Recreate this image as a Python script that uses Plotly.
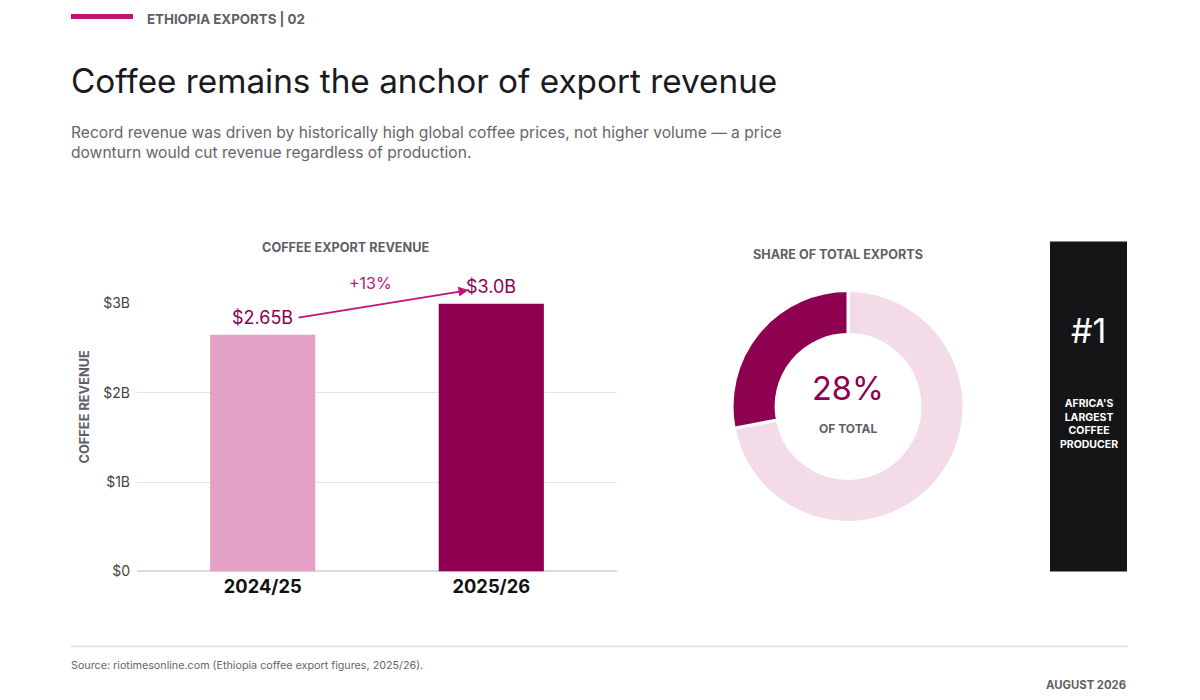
import plotly.graph_objects as go

# data
seasons = ["2024/25", "2025/26"]
revenue_bn = [2.65, 3.0]
share_labels = ["Coffee", "Other exports"]
share_pct = [28, 72]
y_ticks = [0, 1, 2, 3]
y_tick_text = ["$0", "$1B", "$2B", "$3B"]

W, H = 1200, 700
FONT = "Inter"
DARK = "#8E0050"
LIGHT_BAR = "#E4A1C5"
LIGHT_RING = "#F3DCE7"
ACCENT = "#C2127A"
GRAY = "#5F5F66"

# the page puts the plot a little off the window edge; these map the
# positions measured on the target picture to paper fractions
X_OFF, Y_OFF, Y_SCALE = 8, 16.4, 0.976


def px(x):
    return (x - X_OFF) / W


def py(y):
    return 1 - (y - Y_OFF) / (H * Y_SCALE)


fig = go.Figure()

fig.add_trace(go.Bar(
    x=seasons, y=revenue_bn, width=0.46,
    marker=dict(color=[LIGHT_BAR, DARK], line=dict(width=0)),
    hoverinfo="skip", showlegend=False, cliponaxis=False,
))

# reversed so the coffee slice runs left from 12 o'clock
fig.add_trace(go.Pie(
    labels=share_labels[::-1], values=share_pct[::-1], hole=0.62, sort=False,
    direction="counterclockwise", rotation=0,
    marker=dict(colors=[LIGHT_RING, DARK], line=dict(color="white", width=3)),
    textinfo="none", hoverinfo="skip", showlegend=False,
    domain=dict(x=[px(732), px(964)], y=[py(522), py(290)]),
))

growth = (revenue_bn[1] / revenue_bn[0] - 1) * 100

annotations = [
    # header
    dict(x=px(145), y=py(18), text="<b>ETHIOPIA EXPORTS | 02</b>", font=dict(size=13.3, color=GRAY)),
    dict(x=px(69), y=py(80), text="Coffee remains the anchor of export revenue",
         font=dict(size=33.3, color="#1B1B1F")),
    dict(x=px(69), y=py(142), align="left",
         text="Record revenue was driven by historically high global coffee prices, not higher volume — a price<br>"
              "downturn would cut revenue regardless of production.",
         font=dict(size=15.6, color="#66666C")),
    # panel titles
    dict(x=px(346), y=py(247), xanchor="center", text="<b>COFFEE EXPORT REVENUE</b>",
         font=dict(size=12.7, color=GRAY)),
    dict(x=px(838), y=py(254), xanchor="center", text="<b>SHARE OF TOTAL EXPORTS</b>",
         font=dict(size=12.6, color=GRAY)),
    dict(x=px(84), y=py(406), xanchor="center", textangle=-90, text="<b>COFFEE REVENUE</b>",
         font=dict(size=12.8, color=GRAY)),
    # donut center
    dict(x=px(848), y=py(388), xanchor="center", text=f"{share_pct[0]}%",
         font=dict(size=32.5, color=DARK)),
    dict(x=px(848), y=py(428), xanchor="center", text="<b>OF TOTAL</b>",
         font=dict(size=12, color=GRAY)),
    # black stat box
    dict(x=px(1088.5), y=py(330), xanchor="center", text="#1", font=dict(size=34, color="white")),
    dict(x=px(1088.5), y=py(424), xanchor="center",
         text="<b>AFRICA'S<br>LARGEST<br>COFFEE<br>PRODUCER</b>",
         font=dict(size=10.5, color="white")),
    # footer
    dict(x=px(69), y=py(665), text="Source: riotimesonline.com (Ethiopia coffee export figures, 2025/26).",
         font=dict(size=10.75, color="#66666C")),
    dict(x=px(1128), y=py(685), xanchor="right", text="<b>AUGUST 2026</b>",
         font=dict(size=11.3, color=GRAY)),
]
for a in annotations:
    a.setdefault("xanchor", "left")
    a.update(xref="paper", yref="paper", yanchor="middle", showarrow=False)

# bar value labels, growth arrow
for s, v in zip(seasons, revenue_bn):
    annotations.append(dict(
        x=s, y=v, xref="x", yref="y", text=f"${v:.2f}B" if v != round(v) else f"${v:.1f}B",
        showarrow=False, yanchor="middle", yshift=17, font=dict(size=18, color=DARK),
    ))
annotations.append(dict(
    x=0.9, y=revenue_bn[1] + 0.15, xref="x", yref="y",
    ax=0.15, ay=revenue_bn[0] + 0.19, axref="x", ayref="y",
    text="", showarrow=True, arrowhead=2, arrowsize=1.1, arrowwidth=1.8, arrowcolor=ACCENT,
))
annotations.append(dict(
    x=0.47, y=revenue_bn[1], xref="x", yref="y", yshift=21, text=f"+{growth:.0f}%",
    showarrow=False, yanchor="middle", font=dict(size=16, color=ACCENT),
))

shapes = [
    dict(type="line", xref="paper", yref="paper", x0=px(71), x1=px(133), y0=py(16), y1=py(16),
         line=dict(color=ACCENT, width=5)),
    dict(type="rect", xref="paper", yref="paper", x0=px(1050), x1=px(1127), y0=py(571), y1=py(241),
         fillcolor="#151517", line=dict(width=0), layer="below"),
    dict(type="line", xref="paper", yref="paper", x0=px(71), x1=px(1128), y0=py(646), y1=py(646),
         line=dict(color="#DDDDDD", width=1.5)),
]

fig.update_layout(
    width=W, height=H, margin=dict(l=0, r=0, t=0, b=0),
    paper_bgcolor="white", plot_bgcolor="white",
    font=dict(family=FONT, color="#333"),
    xaxis=dict(domain=[px(137), px(617)], type="category", range=[-0.55, 1.55],
               showgrid=False, zeroline=False, showline=False, ticks="",
               tickfont=dict(size=18.3, color="#111", weight=700), ticklabelstandoff=2),
    yaxis=dict(domain=[py(571), py(303)], range=[0, 3], tickvals=y_ticks, ticktext=y_tick_text,
               showgrid=True, gridcolor="#E4E4E8", gridwidth=1, zeroline=True, zerolinecolor="#DADADF",
               showline=False, ticks="", tickfont=dict(size=14, color="#444"), ticklabelstandoff=6),
    annotations=annotations, shapes=shapes,
)

fig.write_html("out.html")
